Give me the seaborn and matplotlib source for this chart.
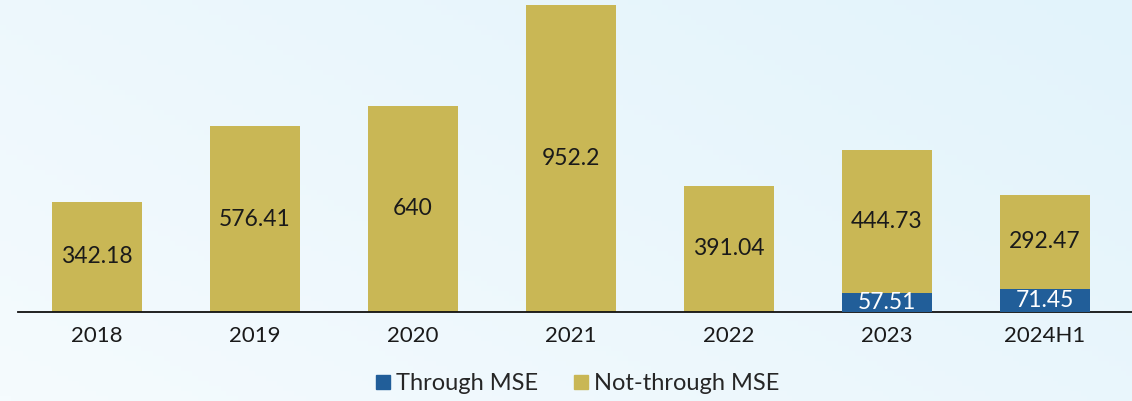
import matplotlib
matplotlib.use("Agg")
import matplotlib.pyplot as plt
from matplotlib.lines import Line2D
import seaborn as sns
import numpy as np
import pandas as pd

# ----------- Data -----------
years = ['2018', '2019', '2020', '2021', '2022', '2023', '2024H1']
through_mse = [0, 0, 0, 0, 0, 57.51, 71.45]
not_through_mse = [342.18, 576.41, 640, 952.2, 391.04, 444.73, 292.47]

df = pd.DataFrame({'year': years, 'through': through_mse, 'not_through': not_through_mse})
df['total'] = df['through'] + df['not_through']

gold = '#C9B755'
blue = '#215E99'

sns.set_style('white')
plt.rcParams['font.family'] = ['Lato', 'DejaVu Sans']

# ----------- Plot -----------
fig = plt.figure(figsize=(11.32, 4.01), dpi=100)
fig.patch.set_facecolor('#EAF6FC')

# soft background gradient
bg = fig.add_axes([0, 0, 1, 1], zorder=0)
gx, gy = np.meshgrid(np.linspace(0, 1, 200), np.linspace(0, 1, 80))
grad = 0.6 * gx + 0.4 * (1 - gy)
bg.imshow(grad, cmap=matplotlib.colors.LinearSegmentedColormap.from_list(
    'bgc', ['#F5FBFE', '#E2F3FB']), aspect='auto', extent=[0, 1, 0, 1])
bg.axis('off')

ax = fig.add_axes([18 / 1132, 89 / 401, 1 - 18 / 1132, 1 - 89 / 401], zorder=1)
ax.patch.set_alpha(0)

sns.barplot(data=df, x='year', y='total', color=gold, width=0.57,
            saturation=1, linewidth=0, ax=ax, zorder=2)
sns.barplot(data=df, x='year', y='through', color=blue, width=0.57,
            saturation=1, linewidth=0, ax=ax, zorder=3)

for i, row in df.iterrows():
    ax.text(i, row['through'] + row['not_through'] / 2, f"{row['not_through']:g}",
            ha='center', va='center', fontsize=16.5, color='#1a1a1a', zorder=4)
    if row['through'] > 0:
        ax.text(i, row['through'] / 2, f"{row['through']:g}",
                ha='center', va='center', fontsize=16.5, color='white', zorder=4)

ax.set_xlim(-0.5, 6.551)
ax.set_ylim(0, 968)
ax.set_xlabel('')
ax.set_ylabel('')
ax.set_yticks([])
for s in ['top', 'right', 'left']:
    ax.spines[s].set_visible(False)
ax.spines['bottom'].set_color('#111111')
ax.spines['bottom'].set_linewidth(1.3)
ax.tick_params(axis='x', length=0, pad=10, labelsize=16, labelcolor='#1a1a1a')

handles = [Line2D([0], [0], marker='s', color='none', markerfacecolor=blue,
                  markeredgecolor=blue, markersize=10, label='Through MSE'),
           Line2D([0], [0], marker='s', color='none', markerfacecolor=gold,
                  markeredgecolor=gold, markersize=10, label='Not-through MSE')]
fig.legend(handles=handles, loc='lower center', bbox_to_anchor=(0.508, -0.035),
           ncol=2, frameon=False, fontsize=17, handletextpad=0.05,
           columnspacing=1.3, handlelength=1.0)

plt.savefig('out.png', dpi=100, facecolor=fig.get_facecolor())
